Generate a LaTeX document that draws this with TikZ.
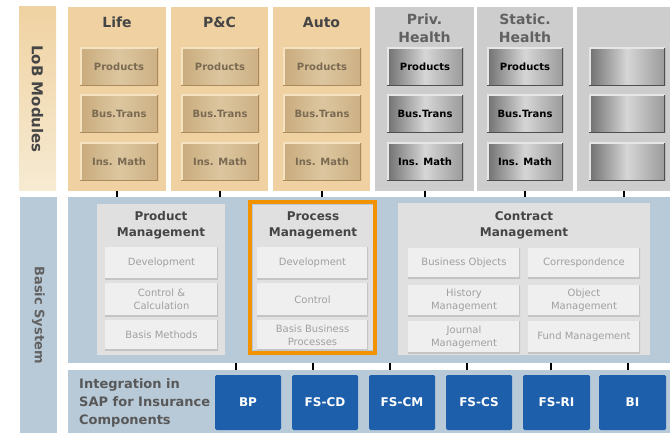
\documentclass[tikz,border=0pt]{standalone}
\usepackage{fontspec}
\setmainfont{DejaVu Sans}
\usetikzlibrary{positioning}

\definecolor{tanCol}{HTML}{F0D2A2}
\definecolor{tanPale}{HTML}{F6EBD3}
\definecolor{tanBtnD}{HTML}{C9AB7D}
\definecolor{tanBtnL}{HTML}{DCC69F}
\definecolor{tanBtnR}{HTML}{CDB084}
\definecolor{tanHi}{HTML}{F4E2C0}
\definecolor{tanSh}{HTML}{A98B5E}
\definecolor{tanText}{HTML}{7A6A52}
\definecolor{grayCol}{HTML}{CDCDCD}
\definecolor{grayBtnD}{HTML}{707070}
\definecolor{grayBtnL}{HTML}{D6D6D6}
\definecolor{grayBtnR}{HTML}{9A9A9A}
\definecolor{grayHi}{HTML}{E6E6E6}
\definecolor{graySh}{HTML}{4F4F4F}
\definecolor{basicBlue}{HTML}{B8CAD8}
\definecolor{mgmtGray}{HTML}{E0E0E0}
\definecolor{subGray}{HTML}{EFEFEF}
\definecolor{subEdge}{HTML}{C4C4C4}
\definecolor{subText}{HTML}{A0A0A0}
\definecolor{titleDark}{HTML}{454545}
\definecolor{sapBlue}{HTML}{1D5FAA}
\definecolor{hlOrange}{HTML}{F39200}

\begin{document}
\begin{tikzpicture}[x=1pt, y=-1pt,
  area/.style={anchor=north west, inner sep=0pt, outer sep=0pt},
  sidebar/.style={rotate=-90, inner sep=0pt, outer sep=0pt, text=titleDark,
    font=\bfseries\fontsize{15}{18}\selectfont},
  lobtan/.style={area, fill=tanCol, minimum height=184},
  lobgray/.style={area, fill=grayCol, minimum height=184},
  heading/.style={align=center, text=titleDark, font=\bfseries\fontsize{14}{18}\selectfont},
  tanbtn/.style={area, minimum width=78, minimum height=38,
    left color=tanBtnD, right color=tanBtnR, middle color=tanBtnL,
    text=tanText, font=\bfseries\fontsize{10}{12}\selectfont,
    path picture={
      \draw[tanHi, line width=3] (path picture bounding box.south west) -- (path picture bounding box.north west) -- (path picture bounding box.north east);
      \draw[tanSh, line width=2] (path picture bounding box.north east) -- (path picture bounding box.south east) -- (path picture bounding box.south west);}},
  graybtn/.style={area, minimum width=76, minimum height=38,
    left color=grayBtnD, right color=grayBtnR, middle color=grayBtnL,
    text=black, font=\bfseries\fontsize{10}{12}\selectfont,
    path picture={
      \draw[grayHi, line width=3] (path picture bounding box.south west) -- (path picture bounding box.north west) -- (path picture bounding box.north east);
      \draw[graySh, line width=2] (path picture bounding box.north east) -- (path picture bounding box.south east) -- (path picture bounding box.south west);}},
  mgmt/.style={area, fill=mgmtGray},
  mgmttitle/.style={align=center, text=titleDark, font=\bfseries\fontsize{12}{16}\selectfont},
  subbox/.style={area, fill=subGray, align=center, text=subText,
    font=\fontsize{10}{13}\selectfont,
    path picture={
      \draw[subEdge, line width=2] (path picture bounding box.north east) -- (path picture bounding box.south east) -- (path picture bounding box.south west);}},
  compbox/.style={area, fill=sapBlue, rounded corners=1.5, minimum width=66, minimum height=55,
    text=white, font=\bfseries\fontsize{12}{14}\selectfont},
  tick/.style={line width=2, black}
]

\useasboundingbox (0,0) rectangle (670,433);

% Side labels
\node[sidebar, minimum width=184, minimum height=37, top color=tanCol, bottom color=tanPale]
  (lobLabel) at (37.5,99) {LoB Modules};
\node[sidebar, minimum width=236, minimum height=37, fill=basicBlue, text=titleDark!85,
  font=\bfseries\fontsize{13}{16}\selectfont]
  (basicLabel) at (38.5,315) {Basic System};

% LoB columns
\node[lobtan, minimum width=98] (life) at (68,7) {};
\node[lobtan, minimum width=97] (pc) at (171,7) {};
\node[lobtan, minimum width=97] (auto) at (273,7) {};
\node[lobgray, minimum width=99] (priv) at (375,7) {};
\node[lobgray, minimum width=96] (stat) at (477,7) {};
\node[lobgray, minimum width=93] (last) at (577,7) {};

% Column headings
\node[heading] (lifeT) at (117,22) {Life};
\node[heading] (pcT) at (219.5,22) {P\&C};
\node[heading] (autoT) at (321.5,22) {Auto};
\node[heading, text=titleDark!85] (privT) at (424.5,28) {Priv.\\Health};
\node[heading, text=titleDark!85] (statT) at (525,28) {Static.\\Health};

% LoB modules inside the columns
\node[tanbtn] (lifeP) at (80,48) {Products};
\node[tanbtn] (lifeB) at (80,95) {Bus.Trans};
\node[tanbtn] (lifeM) at (80,143) {Ins. Math};
\node[tanbtn] (pcP) at (181,48) {Products};
\node[tanbtn] (pcB) at (181,95) {Bus.Trans};
\node[tanbtn] (pcM) at (181,143) {Ins. Math};
\node[tanbtn] (autoP) at (283,48) {Products};
\node[tanbtn] (autoB) at (283,95) {Bus.Trans};
\node[tanbtn] (autoM) at (283,143) {Ins. Math};
\node[graybtn] (privP) at (387,48) {Products};
\node[graybtn] (privB) at (387,95) {Bus.Trans};
\node[graybtn] (privM) at (387,143) {Ins. Math};
\node[graybtn] (statP) at (487,48) {Products};
\node[graybtn] (statB) at (487,95) {Bus.Trans};
\node[graybtn] (statM) at (487,143) {Ins. Math};
\node[graybtn] (lastP) at (589,48) {};
\node[graybtn] (lastB) at (589,95) {};
\node[graybtn] (lastM) at (589,143) {};

% Basic system and integration panels
\node[area, fill=basicBlue, minimum width=602, minimum height=166] (basic) at (68,197) {};
\node[area, fill=basicBlue, minimum width=602, minimum height=63] (integ) at (68,370) {};

% Product management
\node[mgmt, minimum width=128, minimum height=151] (prodM) at (97,204) {};
\node[mgmttitle] (prodT) at (161,225) {Product\\Management};
\node[subbox, minimum width=113, minimum height=32] (prodDev) at (105,247) {Development};
\node[subbox, minimum width=113, minimum height=33] (prodCtl) at (105,283) {Control \&\\Calculation};
\node[subbox, minimum width=113, minimum height=30] (prodBas) at (105,320) {Basis Methods};

% Process management (highlighted)
\node[mgmt, minimum width=120, minimum height=145] (procM) at (253,205) {};
\node[mgmttitle] (procT) at (313,225) {Process\\Management};
\node[subbox, minimum width=111, minimum height=32] (procDev) at (257,247) {Development};
\node[subbox, minimum width=111, minimum height=33] (procCtl) at (257,283) {Control};
\node[subbox, minimum width=111, minimum height=30] (procBas) at (257,320) {Basis Business\\Processes};
\node[area, draw=hlOrange, line width=4, minimum width=125, minimum height=151] (procFrame) at (250,202) {};

% Contract management
\node[mgmt, minimum width=252, minimum height=152] (contM) at (398,203) {};
\node[mgmttitle] (contT) at (524,225) {Contract\\Management};
\node[subbox, minimum width=112, minimum height=30] (contBO) at (408,248) {Business Objects};
\node[subbox, minimum width=112, minimum height=30] (contCor) at (528,248) {Correspondence};
\node[subbox, minimum width=112, minimum height=31] (contHist) at (408,285) {History\\Management};
\node[subbox, minimum width=112, minimum height=31] (contObj) at (528,285) {Object\\Management};
\node[subbox, minimum width=112, minimum height=32] (contJour) at (408,321) {Journal\\Management};
\node[subbox, minimum width=112, minimum height=32] (contFund) at (528,321) {Fund Management};

% Integration components
\node[anchor=west, inner sep=0pt, align=left, text=titleDark!90, font=\bfseries\fontsize{13}{18}\selectfont]
  (integT) at (79,403) {Integration in\\SAP for Insurance\\Components};
\node[compbox] (bp) at (215,375) {BP};
\node[compbox] (fscd) at (292,375) {FS-CD};
\node[compbox] (fscm) at (369,375) {FS-CM};
\node[compbox] (fscs) at (446,375) {FS-CS};
\node[compbox, minimum width=67] (fsri) at (523,375) {FS-RI};
\node[compbox, minimum width=67] (bi) at (599,375) {BI};

% Ticks between the layers
\draw[tick] (life.south) -- (life.south |- basic.north);
\draw[tick] (pc.south) -- (pc.south |- basic.north);
\draw[tick] (auto.south) -- (auto.south |- basic.north);
\draw[tick] (priv.south) -- (priv.south |- basic.north);
\draw[tick] (stat.south) -- (stat.south |- basic.north);
\draw[tick] (last.south) -- (last.south |- basic.north);
\foreach \x in {236,313,390,467,551,628}
  \draw[tick] (basic.south -| \x,0) -- (integ.north -| \x,0);

\end{tikzpicture}
\end{document}
